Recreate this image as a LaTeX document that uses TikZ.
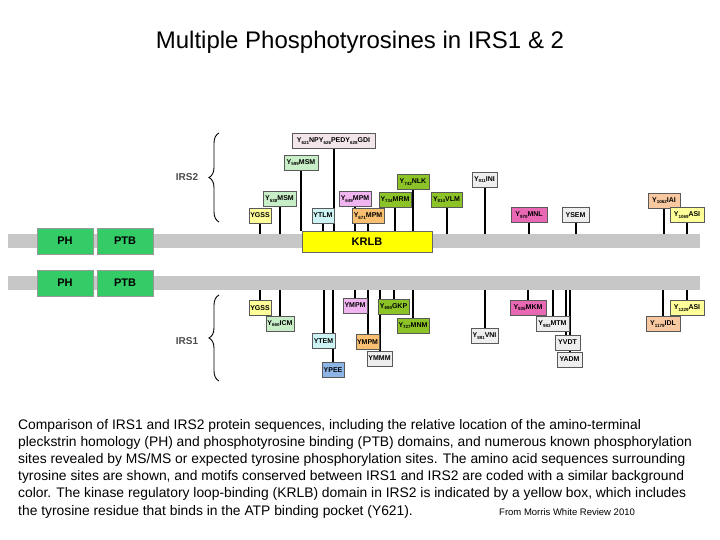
\documentclass[tikz,border=0pt]{standalone}
\usepackage{fontspec}
\setmainfont{Liberation Sans}
\usetikzlibrary{decorations.pathreplacing}
\pgfdeclarelayer{bg}\pgfsetlayers{bg,main}
\definecolor{cpk}{HTML}{F2E6EA}\definecolor{cgr}{HTML}{C8EEC8}\definecolor{cyl}{HTML}{FFFF99}
\definecolor{ccy}{HTML}{CCF4F4}\definecolor{cvi}{HTML}{F0B4F0}\definecolor{cor}{HTML}{F8C070}
\definecolor{col}{HTML}{8CC428}\definecolor{cwh}{HTML}{EEEEEE}\definecolor{cmg}{HTML}{E868B4}
\definecolor{cpe}{HTML}{F8C8A0}\definecolor{cbl}{HTML}{8CB4E4}\definecolor{cdom}{HTML}{33CC66}
\definecolor{ckr}{HTML}{FFFF00}
\newcommand\ys[1]{Y\raisebox{-0.35ex}{\fontsize{4.5}{4.5}\selectfont #1}}
\begin{document}
\begin{tikzpicture}[x=1pt,y=-1pt,
 lb/.style={draw=black!65,line width=0.7pt,fill=#1,inner sep=0.5pt,minimum height=15,font=\fontsize{7}{8}\selectfont\bfseries},
 stem/.style={line width=2pt},
 dom/.style={draw=black!40,fill=cdom,minimum width=56,minimum height=26,font=\fontsize{11}{12}\selectfont\bfseries},
 bar/.style={fill=black!22,minimum width=692,minimum height=14,inner sep=0}]
\useasboundingbox (0,0) rectangle (720,540);
\node[font=\fontsize{24}{28}\selectfont] (title) at (360,42) {Multiple Phosphotyrosines in IRS1 \& 2};
\node[bar] (b2) at (354,241) {};
\node[bar] (b1) at (354,283) {};
\node[dom] (ph2) at (65,241) {PH};
\node[dom] (ptb2) at (125,241) {PTB};
\node[dom] (ph1) at (65,283) {PH};
\node[dom] (ptb1) at (125,283) {PTB};
\node[draw=black!60,fill=ckr,minimum width=130,minimum height=21,font=\fontsize{11}{12}\selectfont\bfseries] (kr) at (367,241.5) {KRLB};
% IRS2
\node[lb=cpk,minimum width=83] (a1) at (333.5,141) {\ys{621}NP\ys{626}PED\ys{628}GDI};
\node[lb=cgr,minimum width=34] (a2) at (301,162.5) {\ys{599}MSM};
\node[lb=cgr,minimum width=33] (a3) at (279.5,199) {\ys{538}MSM};
\node[lb=cyl,minimum width=22] (a4) at (260,215.5) {YGSS};
\node[lb=ccy,minimum width=22] (a5) at (323,215.5) {YTLM};
\node[lb=cvi,minimum width=32] (a6) at (355,199) {\ys{649}MPM};
\node[lb=cor,minimum width=32] (a7) at (368,216) {\ys{671}MPM};
\node[lb=col,minimum width=32] (a8) at (413,182) {\ys{742}NLK};
\node[lb=col,minimum width=32] (a9) at (395,199.5) {\ys{734}MRM};
\node[lb=col,minimum width=31] (a10) at (446.5,199.5) {\ys{814}VLM};
\node[lb=cwh,minimum width=25] (a11) at (484.5,179.5) {\ys{911}INI};
\node[lb=cmg,minimum width=36] (a12) at (529,215) {\ys{970}MNL};
\node[lb=cwh,minimum width=27] (a13) at (575.5,215) {YSEM};
\node[lb=cpe,minimum width=32] (a14) at (664,200.5) {\ys{1062}IAI};
\node[lb=cyl,minimum width=34] (a15) at (687,215) {\ys{1069}ASI};
% IRS1
\node[lb=cyl,minimum width=22] (c1) at (260,308) {YGSS};
\node[lb=cgr,minimum width=28] (c2) at (280,323.5) {\ys{660}ICM};
\node[lb=ccy,minimum width=23] (c3) at (323.5,341) {YTEM};
\node[lb=cbl,minimum width=22] (c4) at (333,370) {YPEE};
\node[lb=cvi,minimum width=24] (c5) at (355,305.5) {YMPM};
\node[lb=cor,minimum width=23] (c6) at (367.5,342) {YMPM};
\node[lb=cwh,minimum width=25] (c7) at (379.5,358.5) {YMMM};
\node[lb=col,minimum width=31] (c8) at (393.5,306.5) {\ys{690}GKP};
\node[lb=col,minimum width=32] (c9) at (413,325.5) {\ys{727}MNM};
\node[lb=cwh,minimum width=27] (c10) at (484.5,336) {\ys{891}VNI};
\node[lb=cmg,minimum width=36] (c11) at (528,307.5) {\ys{935}MKM};
\node[lb=cwh,minimum width=33] (c12) at (552.5,324) {\ys{983}MTM};
\node[lb=cwh,minimum width=25] (c13) at (567.5,342.5) {YVDT};
\node[lb=cwh,minimum width=25] (c14) at (569.5,359.5) {YADM};
\node[lb=cpe,minimum width=34] (c15) at (663,324) {\ys{1179}IDL};
\node[lb=cyl,minimum width=34] (c16) at (687,308) {\ys{1229}ASI};
\begin{pgfonlayer}{bg}
\foreach \n in {a1,a2,a5,a6,a7,a8,a9} \draw[stem] (\n.south) -- (\n.south |- kr.north);
\foreach \n in {a3,a4,a10,a11,a12,a13,a14,a15} \draw[stem] (\n.south) -- (\n.south |- b2.north);
\foreach \n in {c1,c2,c3,c4,c5,c6,c7,c8,c9,c10,c11,c12,c14,c15,c16} \draw[stem] (\n.north) -- (\n.north |- b1.south);
\draw[stem] ([xshift=-1.5pt]c13.north) -- ([xshift=-1.5pt]c13.north |- b1.south);
\end{pgfonlayer}
\draw[line width=0.9pt,decorate,decoration={brace,amplitude=10pt}] (219,222) -- (219,133);
\draw[line width=0.9pt,decorate,decoration={brace,amplitude=10pt}] (219,381) -- (219,295);
\node[font=\fontsize{10}{12}\selectfont\bfseries,text=black!70] (l2) at (187,177) {IRS2};
\node[font=\fontsize{10}{12}\selectfont\bfseries,text=black!70] (l1) at (187,341) {IRS1};
\foreach \t [count=\i] in {Comparison of IRS1 and IRS2 protein sequences{,} including the relative location of the amino-terminal,
pleckstrin homology (PH) and phosphotyrosine binding (PTB) domains{,} and numerous known phosphorylation,
sites revealed by MS/MS or expected tyrosine phosphorylation sites. The amino acid sequences surrounding,
tyrosine sites are shown{,} and motifs conserved between IRS1 and IRS2 are coded with a similar background,
color.  The kinase regulatory loop-binding (KRLB) domain in IRS2 is indicated by a yellow box{,} which includes,
the tyrosine residue that binds in the ATP binding pocket (Y621).}
 \node[anchor=west,inner sep=0,font=\fontsize{13.85}{15}\selectfont] (cap\i) at (18,425.5+17.2*\i-17.2) {\t};
\node[anchor=west,inner sep=0,font=\fontsize{9.5}{10}\selectfont] (src) at (499,512) {From Morris  White Review 2010};
\end{tikzpicture}
\end{document}
